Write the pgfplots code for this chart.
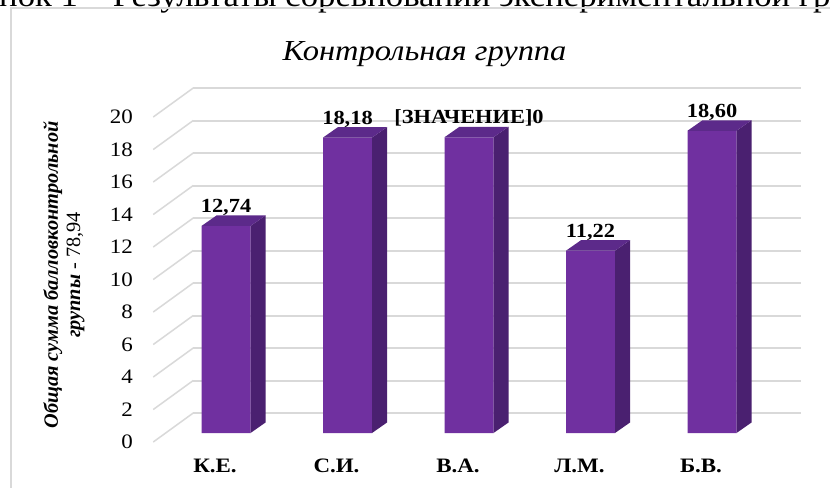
\documentclass[border=0pt]{standalone}
\usepackage{pgfplots}
\usepackage{pgfplotstable}
\pgfplotsset{compat=1.18}
\usepackage{fontspec}
\setmainfont[FakeStretch=1.12]{Liberation Serif}
\newfontfamily\rotfont{Liberation Serif}
\definecolor{barfront}{HTML}{7030A0}
\definecolor{barside}{HTML}{4A2070}
\definecolor{bartop}{HTML}{5C2A8A}
\definecolor{gridc}{HTML}{D9D9D9}

\pgfplotstableread{
x y label
0 12.74 12,74
1 18.18 18,18
2 18.20 [ЗНАЧЕНИЕ]0
3 11.22 11,22
4 18.60 18,60
}\bars

\begin{document}
\begin{tikzpicture}
\useasboundingbox (0,0) rectangle (830bp,-488bp);
\clip (0,0) rectangle (830bp,-488bp);
\fill[white] (0,0) rectangle (830bp,-488bp);
% caption above the chart (cut off)
\node[anchor=base west, inner sep=0pt, font=\fontsize{31bp}{34bp}\selectfont] at (-1bp,-6bp) {нок 1 – Результаты соревнований экспериментальной группы};
% frame
\draw[gridc, line width=2.5bp] (11bp,-8bp) rectangle (900bp,-600bp);
% title
\node[anchor=base, inner sep=0pt, font=\fontsize{29bp}{32bp}\selectfont\itshape] at (424.5bp,-60.7bp) {Контрольная группа};
% y label
\node[rotate=90, inner sep=0pt] at (64.5bp,-275bp) {\resizebox{307bp}{!}{\rotfont\fontsize{20bp}{22bp}\selectfont\begin{tabular}{@{}c@{}}\bfseries\itshape Общая сумма балловконтрольной\\{\bfseries\itshape группы} - 78,94\end{tabular}}};
\begin{axis}[
  at={(165.25bp,-433bp)}, anchor=south west,
  scale only axis, width=607.5bp, height=325bp,
  xmin=-0.5, xmax=4.5, ymin=0, ymax=20,
  axis line style={draw=none}, tick style={draw=none}, major tick length=0pt,
  xtick={0,...,4}, xticklabels={К.Е.,С.И.,В.А.,Л.М.,Б.В.},
  ytick={0,2,...,20}, yticklabels={0,2,4,6,8,10,12,14,16,18,20},
  yticklabel style={anchor=east, inner sep=0pt, xshift=-32.25bp, yshift=-9bp, font=\fontsize{20.5bp}{24bp}\selectfont},
  xticklabel style={anchor=center, inner sep=0pt, xshift=-11bp, yshift=-33bp, font=\fontsize{20.5bp}{24bp}\selectfont\bfseries},
  clip=false,
]
\pgfplotsinvokeforeach{0,2,...,20}{
  \draw[gridc, line width=2bp] ([xshift=28bp,yshift=20bp]axis cs:-0.5,#1) -- ([xshift=28bp,yshift=20bp]axis cs:4.5,#1);
  \draw[gridc, line width=1.5bp] ([xshift=-12bp,yshift=-9bp]axis cs:-0.5,#1) -- ([xshift=28bp,yshift=20bp]axis cs:-0.5,#1);
}
\addplot[ybar, bar width=49bp, fill=barfront, draw=none,
  nodes near coords, point meta=explicit symbolic,
  nodes near coords style={anchor=base, inner sep=0pt, yshift=13.5bp, text=black, font=\fontsize{20bp}{22bp}\selectfont\bfseries}]
  table[x=x, y=y, meta=label]{\bars};
\pgfplotsinvokeforeach{0,...,4}{
  \pgfplotstablegetelem{#1}{y}\of\bars
  \edef\tmp{\noexpand\fill[barside] ([xshift=24.5bp]axis cs:#1,0) -- ([xshift=39.5bp,yshift=10.5bp]axis cs:#1,0) -- ([xshift=39.5bp,yshift=10.5bp]axis cs:#1,\pgfplotsretval) -- ([xshift=24.5bp]axis cs:#1,\pgfplotsretval) -- cycle;
  \noexpand\fill[bartop] ([xshift=-24.5bp]axis cs:#1,\pgfplotsretval) -- ([xshift=24.5bp]axis cs:#1,\pgfplotsretval) -- ([xshift=39.5bp,yshift=10.5bp]axis cs:#1,\pgfplotsretval) -- ([xshift=-9.5bp,yshift=10.5bp]axis cs:#1,\pgfplotsretval) -- cycle;}
  \tmp
}
\end{axis}
\end{tikzpicture}
\end{document}
